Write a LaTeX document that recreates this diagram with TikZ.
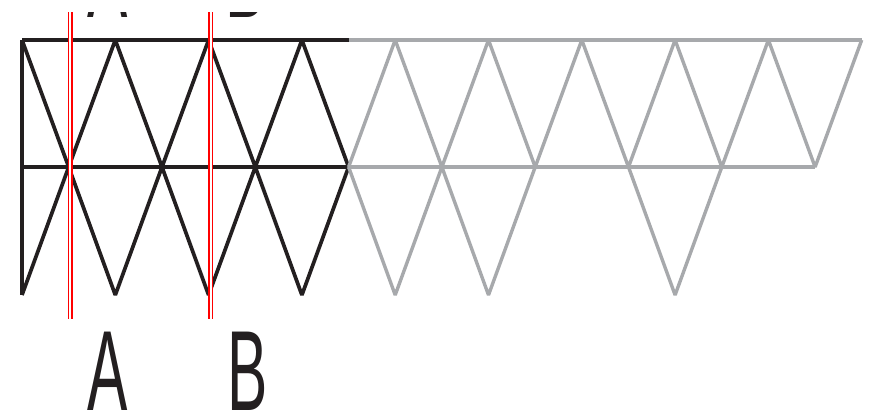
\documentclass[tikz,border=0pt]{standalone}
\usepackage{fontspec}
\usepackage{tikz}
\usepackage{xcolor}
\usetikzlibrary{calc}

\newfontfamily\cutfont{Liberation Sans}
\definecolor{trussblack}{HTML}{231F20}
\definecolor{trussgray}{HTML}{A7A9AC}

\tikzset{
    solidbar/.style={draw=trussblack, line width=3.7pt, line join=bevel},
    ghostbar/.style={draw=trussgray, line width=3.4pt, line join=bevel},
    cutline/.style={draw=red, line width=1.4pt, double=white, double distance=2pt},
    cutlabel/.style={anchor=base, inner sep=0pt, text=trussblack, xscale=0.53,
        font=\cutfont\fontsize{114}{114}\selectfont}
}

\begin{document}
\begin{tikzpicture}[x=1pt, y=-1pt]
    \useasboundingbox (0,0) rectangle (870,413);
    \clip (0,12) rectangle (870,413);

    % nodes of the truss: top chord, middle chord, bottom tips
    \foreach \i in {0,...,9} \coordinate (t\i) at ({22+93.3*\i},40);
    \foreach \i in {0,...,8} \coordinate (m\i) at ({68.7+93.3*\i},167);
    \foreach \i in {0,...,7} \coordinate (b\i) at ({22+93.3*\i},295);
    \coordinate (mleft) at (t0 |- m0);
    \coordinate (tmid) at (m3 |- t0);

    % part still standing
    \draw[solidbar] (t0) -- (tmid);
    \draw[solidbar] (mleft) -- (m3);
    \draw[solidbar] (t0) -- (b0);
    \draw[solidbar] (t0) -- (m0) -- (t1) -- (m1) -- (t2) -- (m2) -- (t3) -- (m3);
    \draw[solidbar] (b0) -- (m0) -- (b1) -- (m1) -- (b2) -- (m2) -- (b3) -- (m3);

    % part taken away
    \draw[ghostbar] (tmid) -- (t9);
    \draw[ghostbar] (m3) -- (m8);
    \draw[ghostbar] (m3) -- (t4) -- (m4) -- (t5) -- (m5) -- (t6) -- (m6)
        -- (t7) -- (m7) -- (t8) -- (m8) -- (t9);
    \draw[ghostbar] (m3) -- (b4) -- (m4) -- (b5) -- (m5);
    \draw[ghostbar] (m6) -- (b7) -- (m7);

    % section cuts
    \coordinate (cutAtop) at (70.2,12);
    \coordinate (cutAbot) at (70.2,319);
    \coordinate (cutBtop) at (210.5,12);
    \coordinate (cutBbot) at (210.5,319);
    \draw[cutline] (cutAtop) -- (cutAbot);
    \draw[cutline] (cutBtop) -- (cutBbot);

    \node[cutlabel] (labA) at (108,410) {A};
    \node[cutlabel] (labB) at (248,410) {B};
    \node[cutlabel] (labAtop) at (108,17) {A};
    \node[cutlabel] (labBtop) at (246,17) {B};
\end{tikzpicture}
\end{document}
